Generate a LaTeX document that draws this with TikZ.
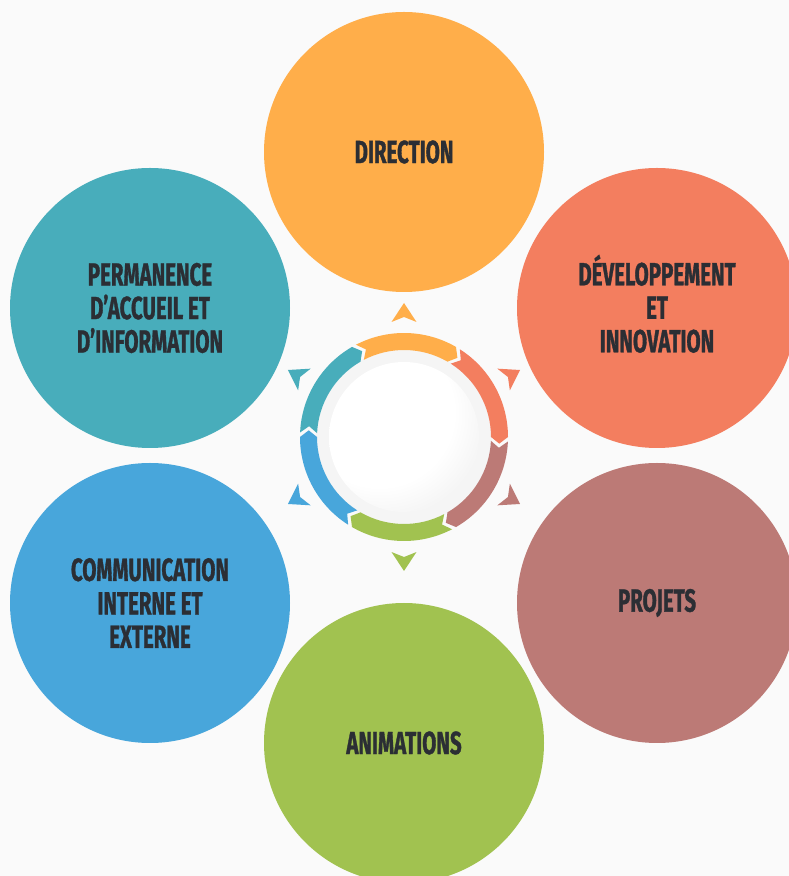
\documentclass[tikz,border=0pt]{standalone}
\usepackage{fontspec}
\newfontfamily\bubblefont[FakeStretch=0.64,FakeBold=1]{Fira Sans}

\definecolor{paper}{HTML}{FAFAFA}
\definecolor{ink}{HTML}{2B2E34}
\definecolor{cdirection}{HTML}{FFAE4A}
\definecolor{cdevelop}{HTML}{F37E5F}
\definecolor{cprojets}{HTML}{BC7A76}
\definecolor{canim}{HTML}{A1C250}
\definecolor{ccomm}{HTML}{48A6DB}
\definecolor{cperm}{HTML}{48ADBB}

\pgfdeclareradialshading{hubshade}{\pgfpoint{-14bp}{14bp}}{%
  color(0bp)=(white); color(25bp)=(white); color(62bp)=(black!17)}

% one arrow piece of the ring plus its little triangle, #1 = mid angle
\newcommand\ringpiece[2]{%
  \fill[#2] (#1+27.5:104pt) arc[start angle=#1+27.5, end angle=#1-30, radius=104pt]
    -- (#1-34:95.5pt) -- (#1-30:87pt)
    arc[start angle=#1-30, end angle=#1+27.5, radius=87pt]
    -- (#1+23.5:95.5pt) -- cycle;
  \fill[#2] (#1:134pt) -- (#1+6.2:115.7pt) -- (#1:120pt) -- (#1-6.2:115.7pt) -- cycle;
}

\tikzset{
  bubble/.style={circle, minimum size=280pt, inner sep=0pt, align=center, text=ink,
    font=\bubblefont\bfseries\fontsize{32}{33.5}\selectfont},
}

\begin{document}
\begin{tikzpicture}[x=1pt,y=1pt]
   \fill[paper] (0,0) rectangle (789,876);
   \useasboundingbox (0,0) rectangle (789,876);

   \node[bubble, fill=cdirection] (direction) at (404,724) {DIRECTION};
   \node[bubble, fill=cdevelop] (develop) at (657,568)
     {\raisebox{0pt}[\fontcharht\font`E]{DÉVELOPPEMENT}\\ET\\INNOVATION};
   \node[bubble, fill=cprojets] (projets) at (657,273) {PROJETS};
   \node[bubble, fill=canim] (anim) at (404,133) {ANIMATIONS};
   \node[bubble, fill=ccomm] (comm) at (150,273) {COMMUNICATION\\INTERNE ET\\EXTERNE};
   \node[bubble, fill=cperm] (perm) at (150,568) {PERMANENCE\\D’ACCUEIL ET\\D’INFORMATION};

   \node[circle, minimum size=176pt, inner sep=0pt, fill=black!4] (hub) at (404,439) {};
   \begin{scope}[shift={(hub.center)}]
     \ringpiece{90}{cdirection}
     \ringpiece{30}{cdevelop}
     \ringpiece{-30}{cprojets}
     \ringpiece{-90}{canim}
     \ringpiece{-150}{ccomm}
     \ringpiece{150}{cperm}
   \end{scope}
   \node[circle, minimum size=150pt, inner sep=0pt, shading=hubshade] (disc) at (hub) {};
\end{tikzpicture}
\end{document}
